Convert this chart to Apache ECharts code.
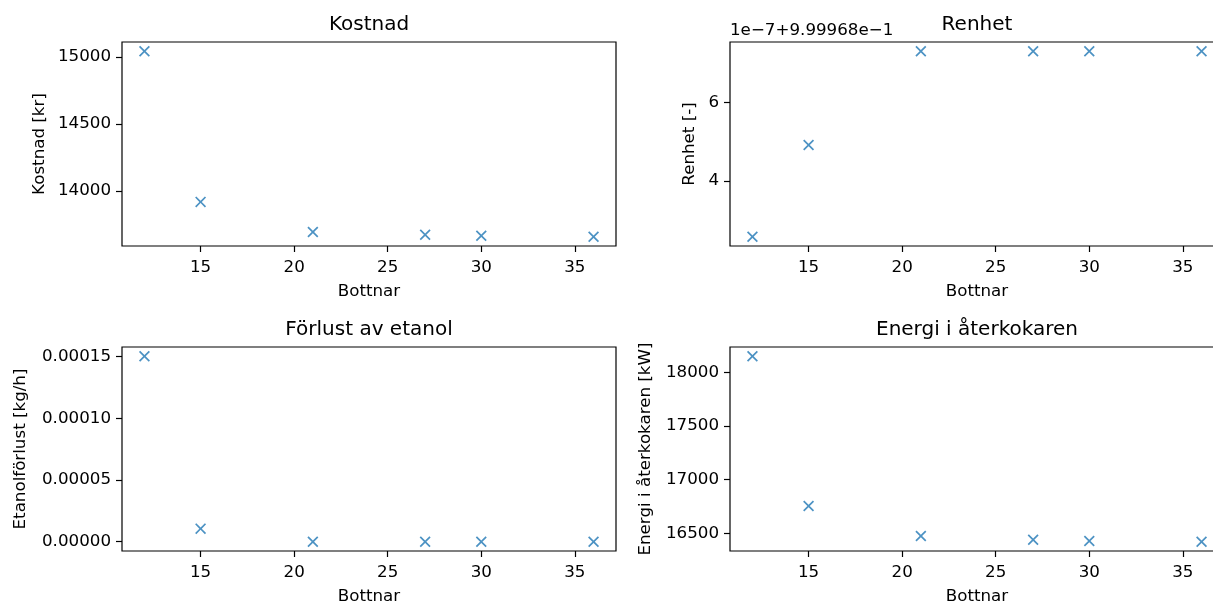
<!DOCTYPE html>
<html>
<head>
<meta charset="utf-8">
<title>Bottnar – kostnad, renhet, förlust och energi</title>
<script src="https://cdn.jsdelivr.net/npm/echarts@6/dist/echarts.min.js"></script>
<style>
  html, body { margin: 0; padding: 0; background: #fff; }
  #chart { width: 1213px; height: 605px; }
</style>
</head>
<body>
<div id="chart"></div>
<script>
// Number of trays (bottnar) in the column
const bottnar = [12, 15, 21, 27, 30, 36];

// Results per tray count
const kostnad = [15042, 13918, 13693, 13673, 13665, 13658];                 // kr
const renhet = [0.999968259, 0.9999684915, 0.999968729, 0.999968729, 0.999968729, 0.999968729]; // -
const etanolforlust = [0.0001501, 0.0000106, 0.00000004, 0.00000002, 0.00000001, 0.00000001];  // kg/h
const energi = [18150, 16755, 16475, 16440, 16428, 16422];                   // kW

// Tick positions
const xTicks = [15, 20, 25, 30, 35];
const kostnadTicks = [14000, 14500, 15000];
const renhetTicks = [4, 6];
const etanolTicks = [0, 0.00005, 0.0001, 0.00015];
const energiTicks = [16500, 17000, 17500, 18000];

// Texts
const titles = ['Kostnad', 'Renhet', 'Förlust av etanol', 'Energi i återkokaren'];
const yNames = ['Kostnad [kr]', 'Renhet [-]', 'Etanolförlust [kg/h]', 'Energi i återkokaren [kW]'];
const xName = 'Bottnar';

// Purity is shown relative to an offset, scaled by 1e-7
const renhetOffset = 0.999968;
const renhetScale = 1e-7;
const renhetOffsetText = '1e\u22127+9.99968e\u22121';

const FONT = 'DejaVu Sans';
const BLUE = '#1f77b4';
const X_SYMBOL = 'path://M1.1,0 L5,3.9 L8.9,0 L10,1.1 L6.1,5 L10,8.9 L8.9,10 L5,6.1 L1.1,10 L0,8.9 L3.9,5 L0,1.1 Z';

// 5 % margin on each side of the data range
function padRange(vals) {
  const lo = Math.min.apply(null, vals), hi = Math.max.apply(null, vals);
  const m = (hi - lo) * 0.05;
  return [lo - m, hi + m];
}

const renhetScaled = renhet.map(v => (v - renhetOffset) / renhetScale);

const panels = [
  { vals: kostnad, ticks: kostnadTicks, fmt: v => String(v), gap: 74 },
  { vals: renhetScaled, ticks: renhetTicks, fmt: v => String(v), gap: 32 },
  { vals: etanolforlust, ticks: etanolTicks, fmt: v => v.toFixed(5), gap: 93 },
  { vals: energi, ticks: energiTicks, fmt: v => String(v), gap: 76 }
];

// The right-hand panels run past the right edge of the canvas
const grids = [
  { left: 122, top: 42, width: 494, height: 204 },
  { left: 730, top: 42, width: 494, height: 204 },
  { left: 122, top: 347, width: 494, height: 204 },
  { left: 730, top: 347, width: 494, height: 204 }
];

const xRange = padRange(bottnar);
const textStyle = { color: '#000', fontFamily: FONT, fontSize: 16.7 };

const option = {
  animation: false,
  backgroundColor: '#fff',
  textStyle: { fontFamily: FONT },
  grid: grids.map(g => Object.assign({
    show: true, borderColor: '#000', borderWidth: 1.2, backgroundColor: 'transparent',
    containLabel: false, outerBoundsMode: 'none'
  }, g)),
  xAxis: grids.map((g, i) => ({
    type: 'value',
    gridIndex: i,
    min: xRange[0],
    max: xRange[1],
    name: xName,
    nameLocation: 'middle',
    nameGap: 37,
    nameTextStyle: textStyle,
    axisLine: { show: false, onZero: false },
    splitLine: { show: false },
    axisTick: { show: true, length: 6, lineStyle: { color: '#000', width: 1.2 }, customValues: xTicks },
    axisLabel: Object.assign({ margin: 13, customValues: xTicks, formatter: v => String(v) }, textStyle)
  })),
  yAxis: panels.map((p, i) => {
    const r = padRange(p.vals);
    return {
      type: 'value',
      gridIndex: i,
      min: r[0],
      max: r[1],
      name: yNames[i],
      nameLocation: 'middle',
      nameGap: p.gap,
      nameTextStyle: textStyle,
      axisLine: { show: false, onZero: false },
      splitLine: { show: false },
      axisTick: { show: true, length: 6, lineStyle: { color: '#000', width: 1.2 }, customValues: p.ticks },
      axisLabel: Object.assign({ margin: 11, customValues: p.ticks, formatter: p.fmt }, textStyle)
    };
  }),
  series: panels.map((p, i) => ({
    type: 'scatter',
    xAxisIndex: i,
    yAxisIndex: i,
    symbol: X_SYMBOL,
    symbolSize: 11,
    itemStyle: { color: BLUE },
    data: bottnar.map((b, k) => [b, p.vals[k]])
  })),
  graphic: grids.map((g, i) => ({
    type: 'text',
    x: g.left + g.width / 2,
    y: g.top - 17.5,
    style: { text: titles[i], fill: '#000', font: '20px "' + FONT + '"', textAlign: 'center', textVerticalAlign: 'middle' }
  })).concat([{
    type: 'text',
    x: grids[1].left,
    y: 31,
    style: { text: renhetOffsetText, fill: '#000', font: '16.7px "' + FONT + '"', textAlign: 'left', textVerticalAlign: 'middle' }
  }])
};

const chart = echarts.init(document.getElementById('chart'), null, { renderer: 'canvas' });
chart.setOption(option);
</script>
</body>
</html>
